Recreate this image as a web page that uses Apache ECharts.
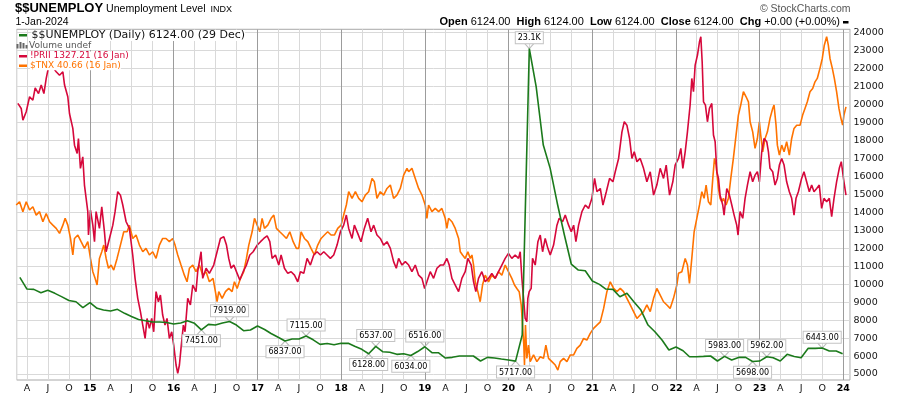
<!DOCTYPE html>
<html><head><meta charset="utf-8">
<script src="https://cdn.jsdelivr.net/npm/echarts@6/dist/echarts.min.js"></script>
<style>html,body{margin:0;padding:0;background:#fff}#c{width:900px;height:396px}</style>
</head><body><div id="c"></div>
<script>
// ---------- DATA ----------
const monthLetters = ['J','F','M','A','M','J','J','A','S','O','N','D'];
const yearLines = [2015,2016,2017,2018,2019,2020,2021,2022,2023,2024];
// $$UNEMPLOY monthly values, Mar 2014 .. Jan 2024 (last point dated 29 Dec 2023)
const unemployValues = [
  10377,9726,9709,9520,9654,9487,9292,9087,9020,8697,
  8975,8653,8558,8503,8597,8375,8197,8030,7958,7891,7891,7863,
  7780,7836,7963,7819,7451,7763,7724,7836,7919,7724,7407,7446,
  7669,7474,7252,7046,6837,6946,6946,7115,6902,6651,6696,6624,
  6707,6707,6540,6373,6128,6537,6240,6207,6095,6129,6034,6250,
  6516,6184,6184,5890,5928,6001,6001,6001,5723,5928,5890,5834,
  5778,5717,7168,23100,20974,17732,16437,14500,12730,11116,10782,10743,
  10171,9987,9726,9709,9298,9487,9020,8558,7724,7352,6890,6334,
  6501,6296,5962,5962,5980,6001,5723,5983,5778,5923,5923,5698,
  5720,5962,5906,5723,6095,5973,5906,6429,6429,6443,6279,6279,
  6124
];
// callouts: [year, month, 't'op / 'b'ottom]
const callouts = [
  [2016,5,'b'],[2016,9,'t'],[2017,5,'b'],[2017,8,'t'],[2018,5,'b'],[2018,6,'t'],
  [2018,11,'b'],[2019,1,'t'],[2020,2,'b'],[2020,4,'t'],[2022,8,'t'],[2022,12,'b'],
  [2023,2,'t'],[2023,10,'t']
];
// !PRII  [decimal year, value on chart scale]
const priiData = [
[2014.138,20050],[2014.178,19770],[2014.198,19120],[2014.238,19590],[2014.278,20420],[2014.317,20230],[2014.345,20920],[2014.385,20600],[2014.417,21070],[2014.449,20600],[2014.477,21440],[2014.497,21900],[2014.536,22180],[2014.596,21810],[2014.636,21620],[2014.676,21810],[2014.696,21070],[2014.735,20420],[2014.755,19490],[2014.795,18660],[2014.815,17730],[2014.847,17270],[2014.862,18100],[2014.886,16440],[2014.914,17080],[2014.934,15510],[2014.954,14770],[2014.974,14030],[2014.982,12730],
[2015.006,14120],[2015.034,13280],[2015.054,12360],[2015.073,14030],[2015.113,13100],[2015.141,14300],[2015.173,12910],[2015.193,11800],[2015.233,12540],[2015.273,13280],[2015.300,14030],[2015.332,15140],[2015.364,14950],[2015.392,14400],[2015.432,13470],[2015.471,13100],[2015.511,11620],[2015.539,10320],[2015.571,9210],[2015.603,8470],[2015.631,7720],[2015.659,6980],[2015.682,8090],[2015.710,7540],[2015.738,8090],[2015.762,7350],[2015.790,9580],[2015.818,9020],[2015.842,9390],[2015.869,8280],[2015.897,7720],[2015.921,8090],[2015.949,6980],[2015.977,7350],
[2016.001,6610],[2016.029,5500],[2016.049,5040],[2016.069,5500],[2016.088,6430],[2016.116,7720],[2016.136,7350],[2016.168,9210],[2016.200,8840],[2016.228,9950],[2016.267,9580],[2016.287,10690],[2016.327,11800],[2016.347,10320],[2016.387,10880],[2016.426,10600],[2016.439,10690],[2016.478,11060],[2016.518,11800],[2016.558,12540],[2016.598,12640],[2016.630,12170],[2016.657,11430],[2016.685,10880],[2016.717,11060],[2016.757,10600],[2016.789,10230],[2016.829,10690],[2016.868,11060],[2016.908,11620],[2016.948,11800],[2016.996,12170],
[2017.036,12360],[2017.075,12540],[2017.115,12690],[2017.147,12360],[2017.175,11430],[2017.214,11620],[2017.254,11060],[2017.282,11620],[2017.322,10880],[2017.362,10600],[2017.402,10690],[2017.442,10500],[2017.481,10130],[2017.513,10690],[2017.553,10600],[2017.593,11430],[2017.632,11060],[2017.672,11620],[2017.712,11800],[2017.752,11620],[2017.792,11800],[2017.831,11620],[2017.871,11430],[2017.911,11620],[2017.951,12170],[2017.991,12910],
[2018.030,13280],[2018.062,13840],[2018.090,13100],[2018.130,12540],[2018.158,13280],[2018.198,12820],[2018.237,12360],[2018.277,13100],[2018.317,13660],[2018.357,12910],[2018.389,13280],[2018.428,12730],[2018.468,12540],[2018.508,12170],[2018.548,12360],[2018.588,11990],[2018.627,11250],[2018.659,10880],[2018.687,11430],[2018.727,11060],[2018.767,11250],[2018.807,11060],[2018.846,10690],[2018.886,11060],[2018.926,10500],[2018.966,10320],[2018.998,9760],
[2019.025,10130],[2019.065,10690],[2019.105,10320],[2019.145,10880],[2019.185,11060],[2019.224,11060],[2019.264,11430],[2019.292,11060],[2019.324,10320],[2019.364,9950],[2019.404,9580],[2019.443,10320],[2019.483,10690],[2019.515,11430],[2019.555,11060],[2019.583,10130],[2019.610,9580],[2019.642,10320],[2019.682,10690],[2019.722,10130],[2019.762,10320],[2019.801,10600],[2019.841,10320],[2019.881,10690],[2019.921,11060],[2019.961,11430],
[2020.000,11710],[2020.040,11430],[2020.080,11620],[2020.120,11430],[2020.140,11800],[2020.160,10320],[2020.180,9210],[2020.199,8090],[2020.219,7910],[2020.231,9210],[2020.247,9580],[2020.271,9760],[2020.287,11430],[2020.319,11060],[2020.351,12360],[2020.379,12730],[2020.407,11800],[2020.438,12540],[2020.470,11990],[2020.498,11620],[2020.538,12170],[2020.578,13280],[2020.605,13660],[2020.645,13470],[2020.677,13840],[2020.717,13280],[2020.749,12910],[2020.777,13280],[2020.804,12360],[2020.836,13280],[2020.876,14030],[2020.916,14400],[2020.955,14210],[2020.995,14770],
[2021.027,15880],[2021.055,15140],[2021.095,15320],[2021.127,14400],[2021.167,15140],[2021.206,15880],[2021.246,15690],[2021.274,16250],[2021.314,16990],[2021.354,18470],[2021.382,19030],[2021.413,18840],[2021.445,18100],[2021.473,16990],[2021.501,17360],[2021.533,16810],[2021.572,16990],[2021.612,16440],[2021.652,15690],[2021.692,16250],[2021.732,14950],[2021.771,15510],[2021.811,16440],[2021.851,15880],[2021.883,16620],[2021.923,14950],[2021.962,15690],[2021.990,16620],
[2022.030,16990],[2022.058,17550],[2022.082,16440],[2022.110,17360],[2022.137,18470],[2022.169,19960],[2022.189,21440],[2022.209,20700],[2022.229,22180],[2022.257,22740],[2022.281,23480],[2022.297,23760],[2022.313,22370],[2022.329,20140],[2022.352,19960],[2022.376,19030],[2022.400,19770],[2022.428,20050],[2022.448,18290],[2022.468,17920],[2022.488,16250],[2022.508,15880],[2022.527,14950],[2022.559,14400],[2022.575,13840],[2022.607,15320],[2022.639,14950],[2022.667,14400],[2022.695,13840],[2022.726,13280],[2022.742,12730],[2022.766,14030],[2022.798,13660],[2022.826,14770],[2022.854,15510],[2022.886,16250],[2022.917,15690],[2022.945,16060],[2022.973,16250],[2022.997,15690],
[2023.025,17360],[2023.053,18100],[2023.085,17920],[2023.105,17360],[2023.124,16440],[2023.156,16250],[2023.184,15510],[2023.212,15880],[2023.236,16620],[2023.264,16990],[2023.292,16620],[2023.323,15690],[2023.355,15140],[2023.383,14770],[2023.411,13840],[2023.435,14770],[2023.463,15140],[2023.502,15880],[2023.530,16250],[2023.562,15690],[2023.594,15140],[2023.622,15510],[2023.650,15140],[2023.682,15320],[2023.713,15510],[2023.741,14210],[2023.769,14770],[2023.801,14580],[2023.833,14770],[2023.861,13750],[2023.889,14770],[2023.920,15690],[2023.952,16440],[2023.976,16810],[2023.992,16250],[2024.008,15690],[2024.032,14950]
];
// $TNX  [decimal year, value on chart scale]
const tnxData = [
[2014.118,14400],[2014.158,14580],[2014.198,14030],[2014.238,14580],[2014.278,14120],[2014.317,14300],[2014.357,13840],[2014.397,14030],[2014.437,13470],[2014.477,13930],[2014.517,13470],[2014.556,13280],[2014.596,13100],[2014.636,12820],[2014.676,13280],[2014.703,13660],[2014.735,13280],[2014.767,12540],[2014.795,11620],[2014.815,12540],[2014.855,12730],[2014.894,12360],[2014.934,11990],[2014.974,12360],
[2015.006,11430],[2015.034,10690],[2015.061,10320],[2015.085,9950],[2015.113,11430],[2015.141,11800],[2015.165,12170],[2015.193,11430],[2015.221,10880],[2015.253,11060],[2015.284,10780],[2015.324,11430],[2015.364,12170],[2015.404,12910],[2015.444,12910],[2015.471,13280],[2015.511,12540],[2015.551,12730],[2015.591,12170],[2015.631,11800],[2015.670,11990],[2015.710,11620],[2015.750,11800],[2015.790,11430],[2015.830,12170],[2015.869,12540],[2015.909,12540],[2015.949,12360],[2015.989,12540],
[2016.017,12170],[2016.049,11620],[2016.088,11060],[2016.128,10500],[2016.160,10130],[2016.188,10880],[2016.228,11060],[2016.267,10690],[2016.307,11060],[2016.347,10500],[2016.387,10690],[2016.426,10130],[2016.470,10320],[2016.498,9580],[2016.518,9020],[2016.538,9580],[2016.578,9210],[2016.618,9580],[2016.657,9760],[2016.697,9580],[2016.725,10130],[2016.757,9760],[2016.797,10320],[2016.836,10690],[2016.868,11430],[2016.896,12170],[2016.936,12910],[2016.964,13660],[2016.996,13280],
[2017.027,12910],[2017.055,13660],[2017.083,13100],[2017.123,13280],[2017.163,13660],[2017.195,13840],[2017.226,13100],[2017.266,12910],[2017.306,12730],[2017.346,12540],[2017.386,12910],[2017.426,12360],[2017.465,11990],[2017.493,11990],[2017.521,12910],[2017.561,12540],[2017.601,12360],[2017.640,11990],[2017.680,11620],[2017.720,12170],[2017.760,12540],[2017.800,12730],[2017.839,12910],[2017.879,12730],[2017.919,12730],[2017.959,13100],[2017.999,13280],
[2018.030,13840],[2018.062,14400],[2018.090,15140],[2018.130,14770],[2018.170,15140],[2018.210,14770],[2018.249,14580],[2018.289,14950],[2018.329,15140],[2018.369,15880],[2018.397,15690],[2018.428,14770],[2018.468,15140],[2018.508,14950],[2018.548,15320],[2018.588,15510],[2018.627,14770],[2018.667,14950],[2018.707,15320],[2018.747,16060],[2018.787,16440],[2018.807,16250],[2018.846,16440],[2018.886,15880],[2018.926,15320],[2018.966,14950],
[2019.005,14400],[2019.025,13660],[2019.045,14400],[2019.085,14030],[2019.125,14210],[2019.165,14030],[2019.204,14210],[2019.244,13660],[2019.264,13100],[2019.284,13660],[2019.324,13470],[2019.364,13100],[2019.404,12540],[2019.424,11800],[2019.451,11620],[2019.483,11430],[2019.515,11800],[2019.543,11430],[2019.563,11620],[2019.583,11060],[2019.603,10130],[2019.634,9580],[2019.662,9020],[2019.690,9950],[2019.722,10500],[2019.762,10130],[2019.801,10500],[2019.841,10320],[2019.881,10690],[2019.921,10500],[2019.961,11060],
[2020.000,10690],[2020.040,10320],[2020.072,9950],[2020.100,9760],[2020.128,9580],[2020.152,8840],[2020.168,7720],[2020.183,6610],[2020.191,5500],[2020.203,7720],[2020.219,5870],[2020.239,6610],[2020.259,5690],[2020.299,6060],[2020.339,5690],[2020.379,5960],[2020.418,5870],[2020.446,6610],[2020.478,5870],[2020.518,5690],[2020.558,5500],[2020.589,5220],[2020.617,5690],[2020.657,5870],[2020.697,5690],[2020.737,6060],[2020.777,6060],[2020.816,6430],[2020.856,6610],[2020.896,6980],[2020.935,6890],[2020.975,7260],
[2021.015,7540],[2021.055,7720],[2021.095,7900],[2021.135,8650],[2021.174,9580],[2021.214,10130],[2021.254,9760],[2021.294,9580],[2021.334,9760],[2021.373,9580],[2021.413,9210],[2021.453,8840],[2021.493,8470],[2021.533,8090],[2021.572,8280],[2021.612,8470],[2021.652,8840],[2021.692,8470],[2021.732,9210],[2021.771,9760],[2021.811,9390],[2021.851,9020],[2021.891,8840],[2021.930,8650],[2021.970,9210],
[2022.010,9950],[2022.030,10600],[2022.070,10690],[2022.110,11430],[2022.137,11060],[2022.161,10040],[2022.189,11430],[2022.217,12910],[2022.249,13660],[2022.281,14400],[2022.309,15140],[2022.336,14770],[2022.360,15510],[2022.388,14580],[2022.416,14400],[2022.440,15880],[2022.460,16990],[2022.480,16620],[2022.508,15320],[2022.527,14770],[2022.547,14580],[2022.567,14770],[2022.599,14400],[2022.627,14770],[2022.655,15880],[2022.686,16990],[2022.718,18290],[2022.746,19400],[2022.774,19960],[2022.806,20700],[2022.838,20420],[2022.866,20140],[2022.886,19030],[2022.917,18470],[2022.945,17550],[2022.973,18100],[2022.997,19030],
[2023.013,18290],[2023.037,17360],[2023.065,18100],[2023.093,18470],[2023.124,19220],[2023.156,19770],[2023.172,19960],[2023.196,18840],[2023.212,17730],[2023.236,17180],[2023.264,17730],[2023.292,17360],[2023.323,17920],[2023.355,17180],[2023.383,18100],[2023.411,18660],[2023.443,18840],[2023.483,18840],[2023.514,19400],[2023.542,19770],[2023.570,20140],[2023.602,20700],[2023.634,20880],[2023.662,21250],[2023.689,21440],[2023.721,22000],[2023.749,22550],[2023.773,23290],[2023.801,23760],[2023.821,23290],[2023.841,22550],[2023.869,22000],[2023.893,21440],[2023.920,20700],[2023.948,19770],[2023.972,19220],[2023.992,18840],[2024.008,19400],[2024.032,19860]
];

// ---------- helpers ----------
function yt(t){ const y=Math.floor(t); const a=Date.UTC(y,0,1), b=Date.UTC(y+1,0,1); return a+(t-y)*(b-a); }
function monthTs(i){ return i===unemployValues.length-1 ? Date.UTC(2023,11,29) : Date.UTC(2014,2+i,1); }
const unemploySeries = unemployValues.map((v,i)=>[monthTs(i), v]);
const priiSeries = priiData.map(p=>[yt(p[0]), p[1]]);
const tnxSeries = tnxData.map(p=>[yt(p[0]), p[1]]);
const xMin = yt(2014.124), xMax = yt(2024.080);

const GREEN='#1b7a1b', CRIMSON='#d6083b', ORANGE='#ff7300';
const PATH_DOWN='path://M0,0L5,6L10,0', PATH_UP='path://M0,6L5,0L10,6';
const markData = callouts.map(c=>{
  const idx=(c[0]-2014)*12+(c[1]-3);
  const v=unemployValues[idx];
  const txt = v>=10000 ? (v/1000).toFixed(1)+'K' : v.toFixed(2);
  const top = c[2]==='t';
  return {coord:[monthTs(idx), v], symbol: top?PATH_DOWN:PATH_UP, symbolSize:[9,5],
    symbolOffset:[0, top?-2.5:2.5],
    label:{position: top?'top':'bottom', formatter: txt}};
});

const chart = echarts.init(document.getElementById('c'), null, {renderer:'canvas'});
const FONT='DejaVu Sans';
chart.setOption({
  animation:false,
  useUTC:true,
  backgroundColor:'#fff',
  grid:[
    {left:16.7, right:50, top:32.4, bottom:4, show:false},
    {left:16.7, right:50, top:29.3, bottom:16, show:true, borderColor:'#a8a8a8', borderWidth:1, backgroundColor:'rgba(0,0,0,0)'}
  ],
  xAxis:[
    {type:'time', gridIndex:0, min:xMin, max:xMax, show:false},
    {type:'time', gridIndex:1, min:xMin, max:xMax, splitNumber:40,
      minInterval:92*864e5, maxInterval:92*864e5,
      axisLine:{show:false}, axisTick:{show:false},
      splitLine:{show:true, lineStyle:{color:'#d9d9d9', width:1}},
      axisLabel:{show:true, margin:4, color:'#111', fontFamily:FONT, fontSize:9.5,
        formatter:function(val){
          const d=new Date(val);
          if(d.getUTCDate()!==1 || d.getUTCHours()!==0) return '';
          const m=d.getUTCMonth();
          if(m===0) return '{y|'+String(d.getUTCFullYear()).slice(2)+'}';
          return monthLetters[m];
        },
        rich:{y:{fontWeight:'bold', fontFamily:FONT, fontSize:9.5, color:'#000'}}
      }
    }
  ],
  yAxis:[
    {type:'value', gridIndex:0, position:'right', min:4000, max:24000, interval:1000,
      axisLine:{show:false}, axisTick:{show:false},
      splitLine:{show:true, showMinLine:false, lineStyle:{color:'#d9d9d9', width:1}},
      axisLabel:{margin:3.5, color:'#111', fontFamily:FONT, fontSize:9.5,
        formatter:function(v){ return v<5000 ? '' : String(v); }}
    },
    {type:'value', gridIndex:1, min:0, max:1, show:false}
  ],
  series:[
    {type:'line', xAxisIndex:1, yAxisIndex:1, z:1, silent:true, showSymbol:false,
      data: yearLines.map(y=>[Date.UTC(y,0,1), 0.5]), lineStyle:{opacity:0},
      markLine:{silent:true, symbol:['none','none'], label:{show:false},
        lineStyle:{color:'#9c9c9c', width:1, type:'solid'},
        data: yearLines.map(y=>({xAxis: Date.UTC(y,0,1)}))}
    },
    {name:'$TNX', type:'line', xAxisIndex:0, yAxisIndex:0, z:3, showSymbol:false,
      data:tnxSeries, lineStyle:{color:ORANGE, width:1.6}, itemStyle:{color:ORANGE}},
    {name:'!PRII', type:'line', xAxisIndex:0, yAxisIndex:0, z:4, showSymbol:false,
      data:priiSeries, lineStyle:{color:CRIMSON, width:1.6}, itemStyle:{color:CRIMSON}},
    {name:'$$UNEMPLOY', type:'line', xAxisIndex:0, yAxisIndex:0, z:5, showSymbol:false,
      data:unemploySeries, lineStyle:{color:GREEN, width:1.6}, itemStyle:{color:GREEN},
      markPoint:{silent:true,
        itemStyle:{color:'rgba(0,0,0,0)', borderColor:'#bdbdbd', borderWidth:1},
        label:{show:true, distance:0, color:'#000', fontFamily:FONT, fontSize:8,
          backgroundColor:'#fff', borderColor:'#c4c4c4', borderWidth:1, padding:[2,2,1,2]},
        data:markData}
    }
  ],
  graphic:[
    {type:'text', left:15, top:2, style:{text:'$$UNEMPLOY', font:'bold 13px "Liberation Sans", Arial', fill:'#000'}},
    {type:'text', left:106, top:3.8, style:{text:'Unemployment Level', font:'10.6px "Liberation Sans", Arial', fill:'#000'}},
    {type:'text', left:210.5, top:5.2, style:{text:'INDX', font:'9px "Liberation Sans", Arial', fill:'#000'}},
    {type:'text', left:15.5, top:17, style:{text:'1-Jan-2024', font:'10.5px "Liberation Sans", Arial', fill:'#000'}},
    {type:'text', right:900-850.5, top:3.5, style:{text:'\u00A9 StockCharts.com', font:'10.5px "Liberation Sans", Arial', fill:'#555'}},
    {type:'text', right:900-840, top:16.5, style:{
      text:'{b|Open} 6124.00  {b|High} 6124.00  {b|Low} 6124.00  {b|Close} 6124.00  {b|Chg} +0.00 (+0.00%)',
      font:'11px "Liberation Sans", Arial', fill:'#000',
      rich:{b:{fontWeight:'bold', fontSize:11, fontFamily:'Liberation Sans'}}}},
    {type:'rect', shape:{x:843, y:21, width:5.5, height:2.5}, style:{fill:'#000'}},
    // legend inside plot
    {type:'rect', shape:{x:19, y:34, width:8, height:2.5}, style:{fill:GREEN}, z:100},
    {type:'text', x:31.5, y:35.5, z:100, style:{text:'$$UNEMPLOY (Daily) 6124.00 (29 Dec)', font:'11px "DejaVu Sans"', fill:'#111', verticalAlign:'middle', backgroundColor:'#fff'}},
    {type:'rect', shape:{x:16.5, y:44, width:2, height:4.5}, style:{fill:'#666'}, z:100},
    {type:'rect', shape:{x:19.5, y:42, width:2, height:6.5}, style:{fill:'#666'}, z:100},
    {type:'rect', shape:{x:22.5, y:43, width:2, height:5.5}, style:{fill:'#666'}, z:100},
    {type:'rect', shape:{x:25.5, y:45, width:2, height:3.5}, style:{fill:'#666'}, z:100},
    {type:'text', x:29, y:45.5, z:100, style:{text:'Volume undef', font:'9px "DejaVu Sans"', fill:'#555', verticalAlign:'middle', backgroundColor:'#fff'}},
    {type:'rect', shape:{x:19, y:55, width:8, height:2.5}, style:{fill:CRIMSON}, z:100},
    {type:'text', x:30, y:56, z:100, style:{text:'!PRII 1327.21 (16 Jan)', font:'9px "DejaVu Sans"', fill:CRIMSON, verticalAlign:'middle', backgroundColor:'#fff'}},
    {type:'rect', shape:{x:19, y:64.5, width:8, height:2.5}, style:{fill:ORANGE}, z:100},
    {type:'text', x:30, y:65.7, z:100, style:{text:'$TNX 40.66 (16 Jan)', font:'9px "DejaVu Sans"', fill:ORANGE, verticalAlign:'middle', backgroundColor:'#fff'}}
  ]
});
</script>
</body></html>
